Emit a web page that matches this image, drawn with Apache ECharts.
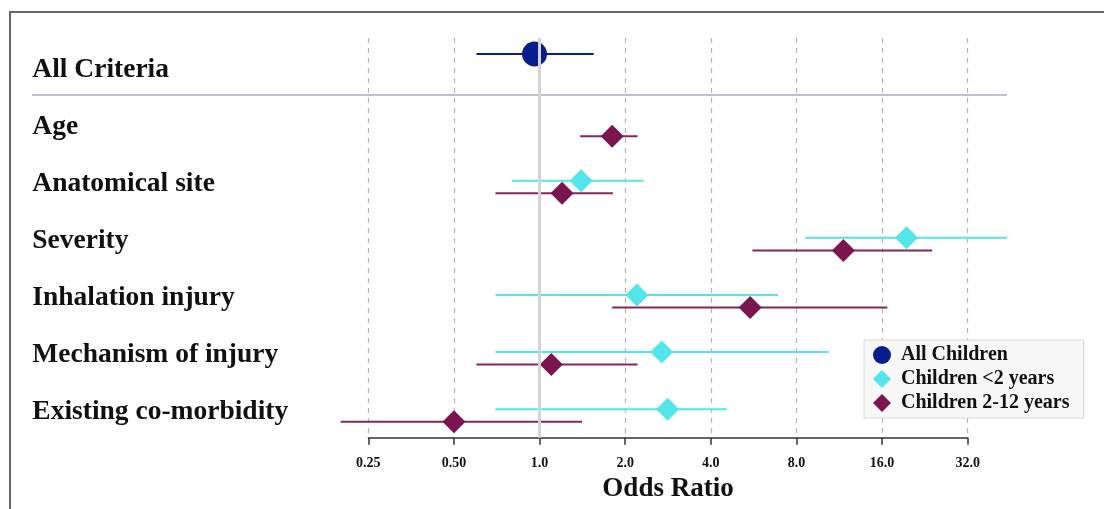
<!DOCTYPE html>
<html>
<head>
<meta charset="utf-8">
<script src="https://cdn.jsdelivr.net/npm/echarts@6/dist/echarts.min.js"></script>
<style>
  html, body { margin: 0; padding: 0; background: #fff; }
  #chart { width: 1104px; height: 509px; }
</style>
</head>
<body>
<div id="chart"></div>
<script>
var rows = ['All Criteria', 'Age', 'Anatomical site', 'Severity', 'Inhalation injury', 'Mechanism of injury', 'Existing co-morbidity'];
var xTicks = [0.25, 0.5, 1, 2, 4, 8, 16, 32];

// all children (row 0 only)
var allOr = [0.96];
var allLow = [0.60];
var allHigh = [1.55];

// children <2 years
var under2Or = [null, null, 1.40, 19.5, 2.20, 2.69, 2.82];
var under2Low = [null, null, 0.80, 8.6, 0.70, 0.70, 0.70];
var under2High = [null, null, 2.32, 44.0, 6.9, 10.4, 4.54];

// children 2-12 years
var over2Or = [null, 1.80, 1.20, 11.7, 5.5, 1.10, 0.50];
var over2Low = [null, 1.39, 0.70, 5.6, 1.80, 0.60, 0.20];
var over2High = [null, 2.21, 1.81, 24.0, 16.7, 2.21, 1.41];

var navy = '#0a1c8e', cyan = '#52e5ea', plum = '#7b1550';
var serif = '"Liberation Serif", "Times New Roman", serif';

function barData(low, high, off) {
  var out = [];
  for (var i = 0; i < low.length; i++) {
    if (low[i] != null) out.push([low[i], high[i], i + 0.5 + off]);
  }
  return out;
}
function pointData(or, off) {
  var out = [];
  for (var i = 0; i < or.length; i++) {
    if (or[i] != null) out.push([or[i], i + 0.5 + off]);
  }
  return out;
}
function renderBar(params, api) {
  var a = api.coord([api.value(0), api.value(2)]);
  var b = api.coord([api.value(1), api.value(2)]);
  return {
    type: 'line',
    shape: { x1: a[0], y1: a[1], x2: b[0], y2: b[1] },
    style: { stroke: api.visual('color'), lineWidth: 2 }
  };
}
function barSeries(data, color) {
  return {
    type: 'custom', renderItem: renderBar, data: data, z: 3, silent: true,
    encode: { x: [0, 1], y: 2 }, itemStyle: { color: color }
  };
}

var chart = echarts.init(document.getElementById('chart'));
chart.setOption({
  animation: false,
  grid: { left: 368.3, right: 1104 - 967.7, top: 38, bottom: 509 - 437.7 },
  xAxis: {
    type: 'log', logBase: 2, position: 'bottom',
    min: xTicks[0], max: xTicks[xTicks.length - 1],
    name: 'Odds Ratio', nameLocation: 'middle', nameGap: 37,
    nameTextStyle: { fontFamily: serif, fontWeight: 'bold', fontSize: 27, color: '#111' },
    axisLine: { onZero: false, lineStyle: { color: '#333', width: 1.5 } },
    axisTick: { length: 7, lineStyle: { color: '#333', width: 1.5 } },
    axisLabel: {
      margin: 19, fontFamily: serif, fontWeight: 'bold', fontSize: 14, color: '#111',
      formatter: function (v) { return v < 1 ? v.toFixed(2) : v.toFixed(1); }
    },
    splitLine: { show: true, lineStyle: { color: '#b5b5b5', type: [5, 5], width: 1.2 } }
  },
  yAxis: {
    type: 'value', inverse: true, min: 0, max: rows.length, interval: 0.5,
    axisLine: { show: false }, axisTick: { show: false }, splitLine: { show: false },
    axisLabel: {
      align: 'left', verticalAlign: 'top', lineHeight: 6, margin: 336,
      fontFamily: serif, fontWeight: 'bold', fontSize: 27.5, color: '#111',
      formatter: function (v) {
        return (Math.round(v * 2) % 2 === 1) ? rows[Math.floor(v)] : '';
      }
    }
  },
  legend: {
    orient: 'vertical', left: 864, top: 340,
    padding: [5, 14, 5, 9], itemGap: 4, itemWidth: 18, itemHeight: 18,
    backgroundColor: '#f7f7f7', borderColor: '#d8d8d8', borderWidth: 1,
    textStyle: { fontFamily: serif, fontWeight: 'bold', fontSize: 20, color: '#111', padding: [0, 0, 0, 5] },
    data: [
      { name: 'All Children', icon: 'circle' },
      { name: 'Children <2 years', icon: 'diamond' },
      { name: 'Children 2-12 years', icon: 'diamond' }
    ]
  },
  graphic: [
    { type: 'rect', shape: { x: 10, y: 12, width: 1200, height: 600 }, style: { fill: null, stroke: '#666', lineWidth: 2 }, silent: true },
    { type: 'line', shape: { x1: 32, y1: 95, x2: 1007, y2: 95 }, style: { stroke: '#c2c2cf', lineWidth: 2 }, silent: true, z: 1 }
  ],
  series: [
    {
      type: 'scatter', data: [], z: 1, silent: true,
      markLine: {
        symbol: 'none', silent: true, label: { show: false },
        lineStyle: { color: '#d4d4d4', width: 3, type: 'solid' },
        data: [{ xAxis: 1 }]
      }
    },
    barSeries(barData(allLow, allHigh, -0.22), navy),
    barSeries(barData(under2Low, under2High, 0), cyan),
    barSeries(barData(over2Low, over2High, 0.22), '#85265b'),
    {
      name: 'All Children', type: 'scatter', symbol: 'circle', symbolSize: 25, z: 4,
      itemStyle: { color: navy, opacity: 1 }, data: pointData(allOr, -0.22)
    },
    {
      name: 'Children <2 years', type: 'scatter', symbol: 'diamond', symbolSize: 23, z: 4,
      itemStyle: { color: cyan, opacity: 1 }, data: pointData(under2Or, 0)
    },
    {
      name: 'Children 2-12 years', type: 'scatter', symbol: 'diamond', symbolSize: 23, z: 4,
      itemStyle: { color: plum, opacity: 1 }, data: pointData(over2Or, 0.22)
    }
  ]
});
</script>
</body>
</html>
